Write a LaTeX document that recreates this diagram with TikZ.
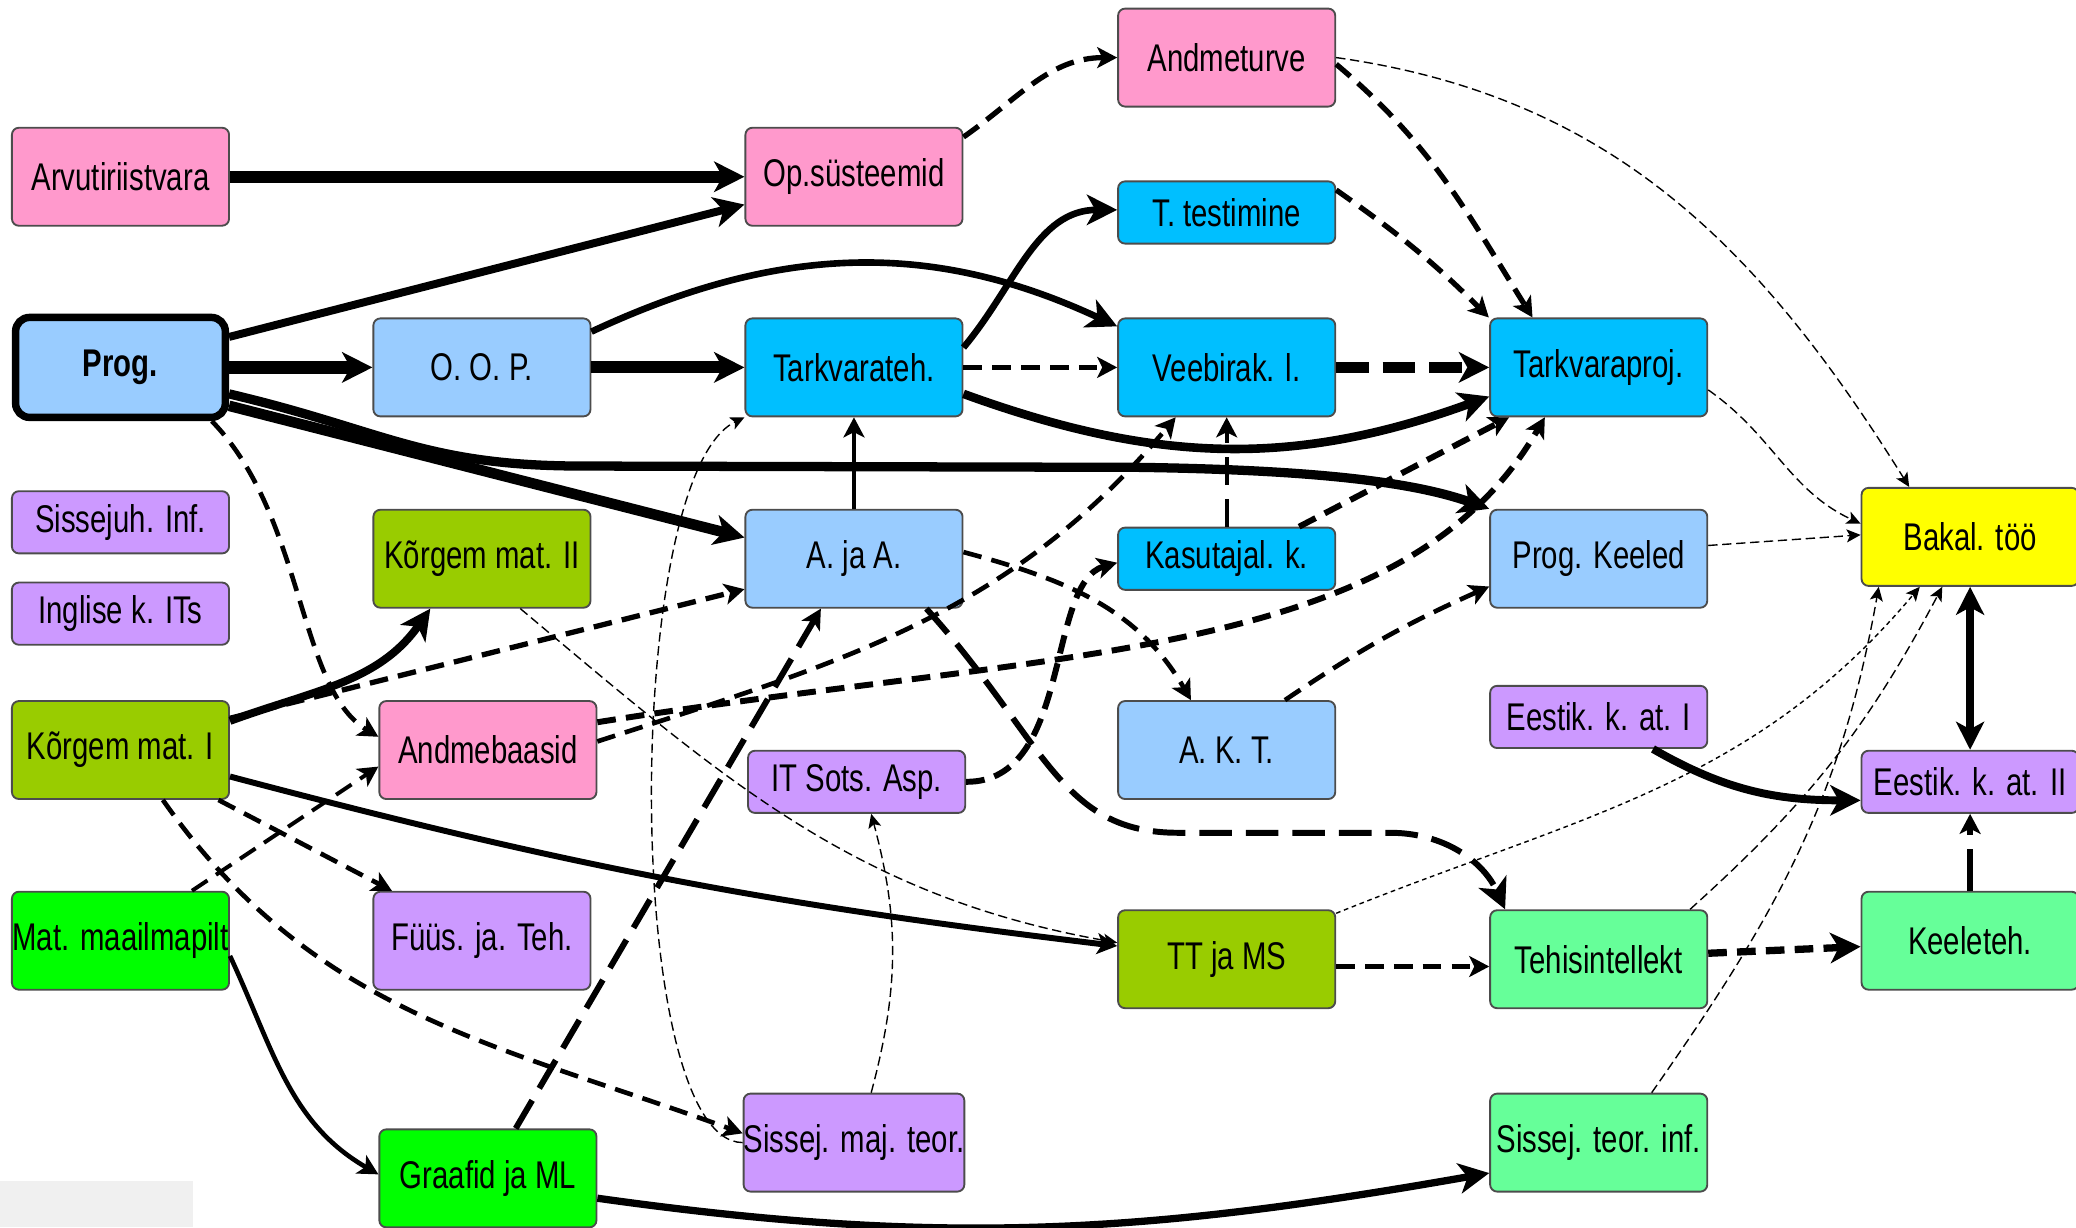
\documentclass[tikz,border=0pt]{standalone}
\usepackage{fontspec}
\setmainfont{Liberation Sans}[FakeStretch=0.76]
\usetikzlibrary{arrows.meta}

\definecolor{cpink}{HTML}{FF99CC}
\definecolor{cblue}{HTML}{99CCFF}
\definecolor{ccyan}{HTML}{00BFFF}
\definecolor{cpurple}{HTML}{CC99FF}
\definecolor{colive}{HTML}{99CC00}
\definecolor{cgreen}{HTML}{00FF00}
\definecolor{cmint}{HTML}{66FF99}
\definecolor{cyellow}{HTML}{FFFF00}

\tikzset{
	course/.style={draw=black!70, line width=0.4pt, rounded corners=1.5pt, minimum width=1.64cm, minimum height=0.74cm, inner sep=0pt, font=\fontsize{8.3}{10}\selectfont},
	coursesm/.style={course, minimum height=0.47cm},
	tipL/.style={-{Stealth[length=6.5pt,width=6.5pt,inset=1.8pt]}},
	tipM/.style={-{Stealth[length=4.3pt,width=4.5pt,inset=1.1pt]}},
	tipS/.style={-{Stealth[length=3pt,width=2.8pt,inset=0.7pt]}},
	dsh/.style={dash pattern=on 4pt off 2.2pt},
	ldsh/.style={dash pattern=on 7pt off 3pt},
	fine/.style={line width=0.3pt, dash pattern=on 2pt off 1pt}
}

\begin{document}
\begin{tikzpicture}
		%%%%% START %%%%%
		
		\useasboundingbox (0, 0) rectangle (15.68, -9.27);
		\fill[black!6] (0, -8.92) rectangle (1.46, -9.27);
		
		\node[course, fill=cpink] (arv) at (0.91, -1.335) {Arvutiriistvara};
		\node[course, fill=cblue, draw=black, line width=1.6pt, rounded corners=3pt, minimum width=1.584cm, minimum height=0.755cm, font=\fontsize{8.3}{10}\selectfont\bfseries] (prog) at (0.91, -2.775) {Prog.};
		\node[coursesm, fill=cpurple] (sissejuh) at (0.91, -3.945) {Sissejuh. Inf.};
		\node[coursesm, fill=cpurple] (inglise) at (0.91, -4.635) {Inglise k. ITs};
		\node[course, fill=colive] (kmat1) at (0.91, -5.665) {Kõrgem mat. I};
		\node[course, fill=cgreen] (matm) at (0.91, -7.105) {Mat. maailmapilt};
		
		\node[course, fill=cblue] (oop) at (3.64, -2.775) {O. O. P.};
		\node[course, fill=colive] (kmat2) at (3.64, -4.22) {Kõrgem mat. II};
		\node[course, fill=cpink] (andmeb) at (3.685, -5.665) {Andmebaasid};
		\node[course, fill=cpurple] (fyys) at (3.64, -7.105) {Füüs. ja. Teh.};
		\node[course, fill=cgreen] (graaf) at (3.685, -8.9) {Graafid ja ML};
		
		\node[course, fill=cpink] (ops) at (6.45, -1.335) {Op.süsteemid};
		\node[course, fill=ccyan] (tarkt) at (6.45, -2.775) {Tarkvarateh.};
		\node[course, fill=cblue] (aja) at (6.45, -4.22) {A. ja A.};
		\node[coursesm, fill=cpurple] (itsots) at (6.47, -5.905) {IT Sots. Asp.};
		\node[course, fill=cpurple] (smaj) at (6.45, -8.63) {Sissej. maj. teor.};
		
		\node[course, fill=cpink] (andmet) at (9.265, -0.435) {Andmeturve};
		\node[coursesm, fill=ccyan] (ttest) at (9.265, -1.605) {T. testimine};
		\node[course, fill=ccyan] (veeb) at (9.265, -2.775) {Veebirak. l.};
		\node[coursesm, fill=ccyan] (kasut) at (9.265, -4.22) {Kasutajal. k.};
		\node[course, fill=cblue] (akt) at (9.265, -5.665) {A. K. T.};
		\node[course, fill=colive] (ttms) at (9.265, -7.245) {TT ja MS};
		
		\node[course, fill=ccyan] (tproj) at (12.075, -2.775) {Tarkvaraproj.};
		\node[course, fill=cblue] (progk) at (12.075, -4.22) {Prog. Keeled};
		\node[coursesm, fill=cpurple] (eest1) at (12.075, -5.415) {Eestik. k. at. I};
		\node[course, fill=cmint] (tehis) at (12.075, -7.245) {Tehisintellekt};
		\node[course, fill=cmint] (steor) at (12.075, -8.63) {Sissej. teor. inf.};
		
		\node[course, fill=cyellow] (bakal) at (14.88, -4.055) {Bakal. töö};
		\node[coursesm, fill=cpurple] (eest2) at (14.88, -5.905) {Eestik. k. at. II};
		\node[course, fill=cmint] (keel) at (14.88, -7.105) {Keeleteh.};
		
		% top rows
		\draw[tipL, line width=0.9mm] (arv) -- (ops);
		\draw[tipL, line width=0.6mm] ([yshift=0.23cm]prog.east) -- ([yshift=-0.21cm]ops.west);
		\draw[tipL, line width=0.95mm] (prog) -- (oop);
		\draw[tipL, line width=0.9mm] (oop) -- (tarkt);
		\draw[tipL, line width=0.5mm] ([yshift=0.27cm]oop.east) to[out=25, in=155] ([yshift=0.31cm]veeb.west);
		\draw[tipL, line width=0.5mm] ([yshift=0.15cm]tarkt.east) to[out=50, in=180] ([yshift=0.02cm]ttest.west);
		\draw[tipM, line width=0.35mm, dsh] (tarkt) -- (veeb);
		\draw[tipL, line width=0.65mm] ([yshift=-0.2cm]tarkt.east) to[out=-20, in=200] ([yshift=-0.22cm]tproj.west);
		\draw[tipL, line width=0.8mm, dash pattern=on 7pt off 3pt] (veeb) -- (tproj);
		\draw[tipM, line width=0.4mm, dsh] ([yshift=0.3cm]ops.east) to[out=35, in=180] (andmet.west);
		\draw[tipM, line width=0.4mm, dsh] ([yshift=-0.05cm]andmet.east) to[out=-40, in=122] ([xshift=-0.5cm]tproj.north);
		\draw[tipM, line width=0.4mm, dsh] ([yshift=0.17cm]ttest.east) to[out=-35, in=135] ([xshift=-0.83cm]tproj.north);
		
		% from Prog. downwards
		\draw[tipL, line width=0.8mm] ([yshift=-0.29cm]prog.east) -- ([yshift=0.16cm]aja.west);
		\draw[tipL, line width=0.7mm] ([yshift=-0.2cm]prog.east) .. controls (2.9, -3.25) and (3.2, -3.52) .. (4.4, -3.52) -- (8.6, -3.53) .. controls (10.0, -3.55) and (10.7, -3.65) .. (progk.north west);
		\draw[tipM, line width=0.35mm, dsh] ([xshift=0.69cm]prog.south) .. controls (2.3, -3.9) and (2.25, -5.2) .. ([yshift=0.1cm]andmeb.west);
		
		% middle
		\draw[tipM, line width=0.35mm] (aja) -- (tarkt);
		\draw[tipM, line width=0.3mm, dash pattern=on 6pt off 3pt] (kasut) -- (veeb);
		\draw[tipM, line width=0.45mm, dsh] ([xshift=-0.28cm]kasut.north east) -- ([xshift=0.15cm]tproj.south west);
		\draw[tipM, line width=0.35mm, dsh] ([yshift=0.05cm]aja.east) to[out=-15, in=120] ([xshift=-0.27cm]akt.north);
		\draw[tipL, line width=0.45mm, ldsh] ([xshift=-0.28cm]aja.south east) .. controls (7.9, -5.6) and (8.0, -6.29) .. (8.9, -6.29) -- (10.5, -6.29) .. controls (10.9, -6.29) and (11.2, -6.5) .. ([xshift=0.12cm]tehis.north west);
		\draw[tipM, line width=0.45mm, dsh] (itsots.east) .. controls (8.1, -5.91) and (7.9, -4.4) .. ([yshift=-0.03cm]kasut.west);
		\draw[tipM, line width=0.35mm, dsh] ([xshift=0.44cm]akt.north) to[bend left=5] ([yshift=-0.21cm]progk.west);
		
		% Kõrgem mat. I and the lower left
		\draw[tipL, line width=0.6mm] ([yshift=0.22cm]kmat1.east) to[out=20, in=-125] ([xshift=-0.39cm]kmat2.south);
		\draw[tipM, line width=0.4mm, dsh] ([yshift=0.24cm]kmat1.east) -- ([yshift=-0.23cm]aja.west);
		\draw[tipM, line width=0.45mm] ([yshift=-0.2cm]kmat1.east) to[bend right=4] ([yshift=0.1cm]ttms.west);
		\draw[tipM, line width=0.35mm, dsh] ([xshift=0.74cm]kmat1.south) -- ([xshift=-0.68cm]fyys.north);
		\draw[tipM, line width=0.35mm, dsh] ([xshift=0.32cm]kmat1.south) to[out=-55, in=160] ([yshift=0.07cm]smaj.west);
		\draw[tipM, line width=0.3mm, dsh] ([xshift=0.54cm]matm.north) -- ([yshift=-0.125cm]andmeb.west);
		\draw[tipM, line width=0.35mm] ([yshift=-0.115cm]matm.east) to[out=-65, in=150] ([yshift=0.03cm]graaf.west);
		\draw[tipM, line width=0.45mm, ldsh] ([xshift=0.21cm]graaf.north) -- ([xshift=-0.25cm]aja.south);
		\draw[tipL, line width=0.55mm] ([yshift=-0.15cm]graaf.east) to[out=-8, in=190] ([yshift=-0.23cm]steor.west);
		\draw[tipM, line width=0.35mm, dsh] ([yshift=0.065cm]andmeb.east) to[out=18, in=-130] ([xshift=-0.385cm]veeb.south);
		\draw[tipM, line width=0.45mm, dsh] ([yshift=0.21cm]andmeb.east) .. controls (8.0, -4.9) and (10.6, -5.0) .. ([xshift=0.42cm]tproj.south west);
		
		% thin ones
		\draw[tipS, fine] ([xshift=0.29cm]kmat2.south) to[out=-40, in=170] ([yshift=0.125cm]ttms.west);
		\draw[tipS, fine] ([xshift=0.13cm]smaj.north) to[out=75, in=-75] ([xshift=0.11cm]itsots.south);
		\draw[tipS, fine] (smaj.west) .. controls (4.7, -8.62) and (4.7, -3.6) .. (tarkt.south west);
		
		% right side
		\draw[tipM, line width=0.45mm, dsh] ([yshift=-0.055cm]ttms.east) -- ([yshift=-0.055cm]tehis.west);
		\draw[tipL, line width=0.55mm, dsh] ([yshift=0.045cm]tehis.east) -- ([yshift=-0.045cm]keel.west);
		\draw[tipM, line width=0.45mm, dash pattern=on 9pt off 3pt] (keel) -- (eest2);
		\draw[{Stealth[length=6pt,width=6pt,inset=1.6pt]}-{Stealth[length=6pt,width=6pt,inset=1.6pt]}, line width=0.55mm] (bakal) -- (eest2);
		\draw[tipL, line width=0.6mm] ([xshift=0.41cm]eest1.south) to[out=-30, in=180] ([yshift=-0.14cm]eest2.west);
		
		\draw[tipS, fine] (andmet.east) to[out=-8, in=122] ([xshift=-0.46cm]bakal.north);
		\draw[tipS, fine] ([yshift=-0.17cm]tproj.east) to[out=-35, in=155] ([yshift=0.1cm]bakal.west);
		\draw[tipS, fine] ([yshift=0.1cm]progk.east) -- ([yshift=0.015cm]bakal.west);
		\draw[tipS, line width=0.3pt, dash pattern=on 1pt off 0.8pt] ([yshift=-0.03cm]ttms.north east) to[out=22, in=-130] ([xshift=-0.38cm]bakal.south);
		\draw[tipS, fine] ([xshift=0.69cm]tehis.north) to[out=42, in=-118] ([xshift=-0.21cm]bakal.south);
		\draw[tipS, fine] ([xshift=0.4cm]steor.north) to[out=55, in=-100] ([xshift=-0.69cm]bakal.south);
		
		%%%%% END %%%%%
\end{tikzpicture}
\end{document}
